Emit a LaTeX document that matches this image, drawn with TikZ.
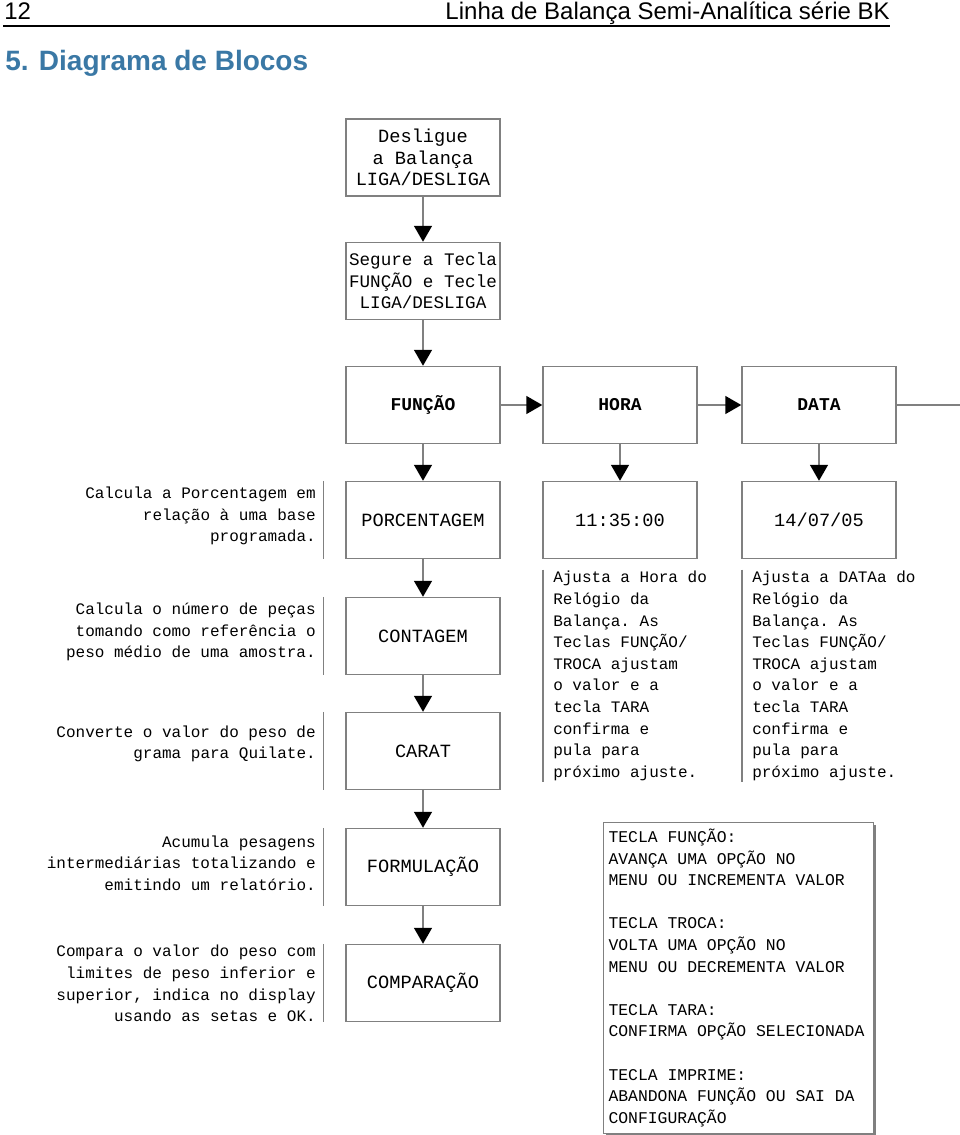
\documentclass[tikz,border=0pt]{standalone}
\usepackage{fontspec}
\setmainfont{Liberation Sans}
\setmonofont{Liberation Mono}
\usetikzlibrary{arrows.meta,positioning,shadows}

\definecolor{tituloazul}{RGB}{58,120,165}
\definecolor{linhacinza}{RGB}{128,128,128}

\tikzset{
	bloco/.style={draw=linhacinza, line width=1.1pt, minimum width=115.5pt, minimum height=57.75pt,
		inner sep=2pt, align=center, font=\ttfamily\fontsize{14}{16.2}\selectfont},
	seta/.style={draw=linhacinza, line width=1.1pt, -{Triangle[length=12pt,width=13.5pt,color=black]}},
	barra/.style={draw=linhacinza, line width=1.1pt},
	desc/.style={anchor=east, align=right, inner sep=0pt, font=\ttfamily\fontsize{12}{16.2}\selectfont},
	ajuste/.style={anchor=north west, align=left, inner sep=0pt, font=\ttfamily\fontsize{12}{16.2}\selectfont}
}

\begin{document}
\begin{tikzpicture}[x=0.75pt,y=-0.75pt]
	\useasboundingbox (0,0) rectangle (960,1135);

	% cabecalho
	\node[anchor=base west, inner sep=0pt, font=\fontsize{18}{20}\selectfont] (pagina) at (4,19) {12};
	\node[anchor=base east, inner sep=0pt, font=\fontsize{18}{20}\selectfont] (cabec) at (890,19) {Linha de Balança Semi-Analítica série BK};
	\draw[line width=2.2pt] (3,26) -- (890,26);
	\node[anchor=base west, inner sep=0pt, text=tituloazul, font=\bfseries\fontsize{21}{24}\selectfont] (titulo) at (5,70) {5. Diagrama de Blocos};

	% blocos
	\node[bloco] (desliga) at (423,157.5) {Desligue\\a Balança\\LIGA/DESLIGA};
	\node[bloco, font=\ttfamily\fontsize{13.2}{16.2}\selectfont] (segure) at (423,281) {Segure a Tecla\\FUNÇÃO e Tecle\\LIGA/DESLIGA};

	\node[bloco, font=\ttfamily\bfseries\fontsize{13.5}{16}\selectfont] (funcao) at (423,405) {FUNÇÃO};
	\node[bloco, font=\ttfamily\bfseries\fontsize{13.5}{16}\selectfont] (hora) at (620,405) {HORA};
	\node[bloco, font=\ttfamily\bfseries\fontsize{13.5}{16}\selectfont] (data) at (819,405) {DATA};
	\coordinate (saida) at (960,405);

	\node[bloco] (porc) at (423,520) {PORCENTAGEM};
	\node[bloco] (relogio) at (620,520) {11:35:00};
	\node[bloco] (calend) at (819,520) {14/07/05};
	\node[bloco] (contagem) at (423,636) {CONTAGEM};
	\node[bloco] (carat) at (423,751) {CARAT};
	\node[bloco] (formula) at (423,867) {FORMULAÇÃO};
	\node[bloco] (compara) at (423,983) {COMPARAÇÃO};

	\draw[seta] (desliga) -- (segure);
	\draw[seta] (segure) -- (funcao);
	\draw[seta] (funcao) -- (hora);
	\draw[seta] (hora) -- (data);
	\draw[barra] (data.east) -- (saida);
	\draw[seta] (funcao) -- (porc);
	\draw[seta] (hora) -- (relogio);
	\draw[seta] (data) -- (calend);
	\draw[seta] (porc) -- (contagem);
	\draw[seta] (contagem) -- (carat);
	\draw[seta] (carat) -- (formula);
	\draw[seta] (formula) -- (compara);

	% textos laterais
	\node[desc] (descporc) at (316,516) {Calcula a Porcentagem em\\relação à uma base\\programada.};
	\node[desc] (desccont) at (316,632) {Calcula o número de peças\\tomando como referência o\\peso médio de uma amostra.};
	\node[desc] (desccarat) at (316,744) {Converte o valor do peso de\\grama para Quilate.};
	\node[desc] (descform) at (316,863) {Acumula pesagens\\intermediárias totalizando e\\emitindo um relatório.};
	\node[desc] (desccomp) at (316,983.5) {Compara o valor do peso com\\limites de peso inferior e\\superior, indica no display\\usando as setas e OK.};
	\foreach \b in {porc,contagem,carat,formula,compara}
		\draw[barra] ([xshift=-16.5pt]\b.north west) -- ([xshift=-16.5pt]\b.south west);

	\node[ajuste] (ajhora) at (553,571) {Ajusta a Hora do\\Relógio da\\Balança. As\\Teclas FUNÇÃO/\\TROCA ajustam\\o valor e a\\tecla TARA\\confirma e\\pula para\\próximo ajuste.};
	\node[ajuste] (ajdata) at (752,571) {Ajusta a DATAa do\\Relógio da\\Balança. As\\Teclas FUNÇÃO/\\TROCA ajustam\\o valor e a\\tecla TARA\\confirma e\\pula para\\próximo ajuste.};
	\draw[barra] ([xshift=-7.5pt,yshift=1pt]ajhora.north west) -- ([xshift=-7.5pt,yshift=-1pt]ajhora.south west);
	\draw[barra] ([xshift=-7.5pt,yshift=1pt]ajdata.north west) -- ([xshift=-7.5pt,yshift=-1pt]ajdata.south west);

	% legenda das teclas
	\node[anchor=north west, draw=linhacinza, line width=0.8pt, fill=white, text width=195pt, minimum height=233pt,
		inner xsep=3.75pt, align=left, font=\ttfamily\fontsize{12.3}{16.2}\selectfont,
		drop shadow={shadow xshift=2pt, shadow yshift=-2pt, fill=linhacinza, opacity=1}] (teclas) at (603,822)
		{\spaceskip=0pt\xspaceskip=0pt
		TECLA FUNÇÃO:\\AVANÇA UMA OPÇÃO NO\\MENU OU INCREMENTA VALOR\\[16.2pt]
		TECLA TROCA:\\VOLTA UMA OPÇÃO NO\\MENU OU DECREMENTA VALOR\\[16.2pt]
		TECLA TARA:\\CONFIRMA OPÇÃO SELECIONADA\\[16.2pt]
		TECLA IMPRIME:\\ABANDONA FUNÇÃO OU SAI DA\\CONFIGURAÇÃO};
\end{tikzpicture}
\end{document}
